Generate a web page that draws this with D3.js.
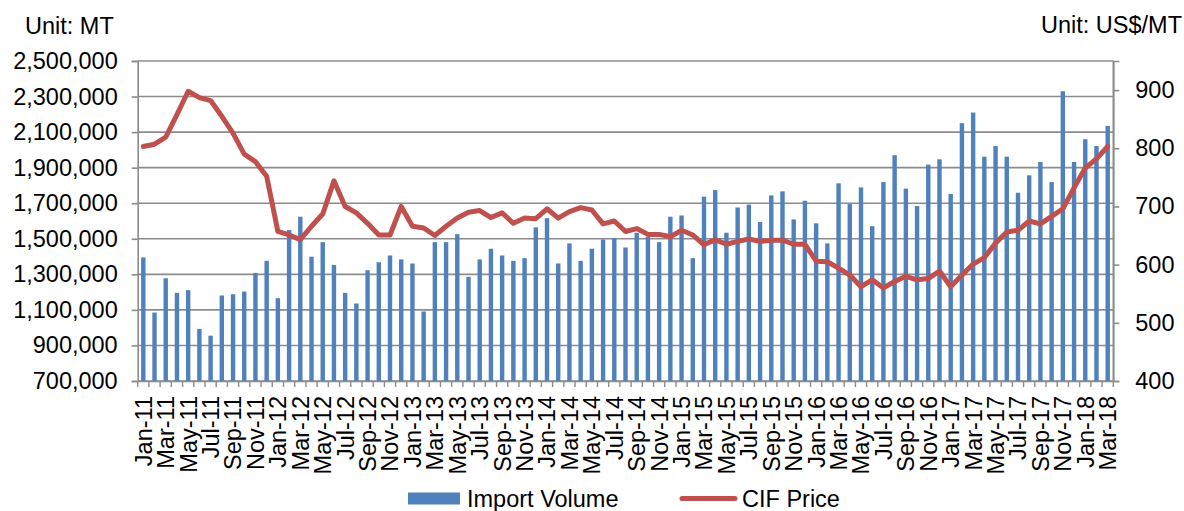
<!DOCTYPE html>
<html>
<head>
<meta charset="utf-8">
<script src="https://cdn.jsdelivr.net/npm/d3@7"></script>
<style>
  html, body { margin: 0; padding: 0; background: #fff; }
  svg { display: block; font-family: "Liberation Sans", Arial, sans-serif; }
</style>
</head>
<body>
<div class="svg-container"></div>
<script>
// month/year parts used to build the category labels
const monthNames = ['Jan', 'Feb', 'Mar', 'Apr', 'May', 'Jun', 'Jul', 'Aug', 'Sep', 'Oct', 'Nov', 'Dec'];
const years = ['11', '12', '13', '14', '15', '16', '17', '18'];

// import volume, MT (Jan-11 .. Mar-18)
const importVolume = [
  1395000, 1085000, 1278000, 1196000, 1211000, 993000, 955000, 1181000, 1188000, 1203000, 1308000, 1376000,
  1166000, 1549000, 1624000, 1399000, 1481000, 1353000, 1196000, 1136000, 1323000, 1368000, 1406000, 1384000,
  1361000, 1091000, 1481000, 1481000, 1526000, 1286000, 1384000, 1444000, 1406000, 1376000, 1391000, 1564000,
  1616000, 1361000, 1474000, 1376000, 1444000, 1496000, 1504000, 1451000, 1534000, 1511000, 1481000, 1624000,
  1631000, 1391000, 1737000, 1774000, 1534000, 1676000, 1692000, 1594000, 1744000, 1767000, 1609000, 1714000,
  1587000, 1474000, 1812000, 1695000, 1789000, 1571000, 1819000, 1970000, 1782000, 1684000, 1917000, 1947000,
  1752000, 2150000, 2210000, 1962000, 2022000, 1962000, 1759000, 1857000, 1932000, 1819000, 2330000, 1932000,
  2060000, 2022000, 2135000
];

// CIF price, US$/MT
const cifPrice = [
  803, 807, 819, 858, 898, 887, 882, 855, 826, 790, 777, 752,
  657, 651, 643, 666, 687, 744, 700, 689, 671, 651, 651, 700,
  666, 663, 650, 666, 680, 690, 693, 681, 689, 671, 680, 679,
  696, 680, 691, 698, 694, 670, 675, 657, 662, 652, 652, 648,
  659, 651, 634, 643, 635, 640, 644, 640, 642, 642, 635, 635,
  606, 605, 594, 582, 562, 574, 560, 571, 580, 574, 576, 589,
  562, 582, 601, 612, 637, 656, 659, 675, 670, 683, 696, 732,
  766, 782, 803
];

const leftTicks = [700000, 900000, 1100000, 1300000, 1500000, 1700000, 1900000, 2100000, 2300000, 2500000];
const rightTicks = [400, 500, 600, 700, 800, 900];

// build category labels like "Jan-11"
const categories = [];
years.forEach((y) => {
  monthNames.forEach((m) => {
    if (categories.length < importVolume.length) categories.push(m + '-' + y);
  });
});

const width = 1184;
const height = 511;
const margin = { top: 61, right: 70.7, bottom: 130, left: 137.7 };
const gridColor = '#8c8c8c';
const fontSize = 23.5;

const svg = d3.select('.svg-container')
  .append('svg')
  .attr('width', width)
  .attr('height', height);

// scales
const xScale = d3.scaleBand()
  .domain(categories)
  .range([margin.left, width - margin.right])
  .paddingInner(0)
  .paddingOuter(0);

const yLeft = d3.scaleLinear()
  .domain([700000, 2500000])
  .range([height - margin.bottom, margin.top]);

const yRight = d3.scaleLinear()
  .domain([400, 950])
  .range([height - margin.bottom, margin.top]);

const plotBottom = height - margin.bottom;
const plotRight = width - margin.right;

// gridlines
svg.append('g')
  .selectAll('line')
  .data(leftTicks)
  .join('line')
  .attr('x1', margin.left)
  .attr('x2', plotRight)
  .attr('y1', (d) => yLeft(d))
  .attr('y2', (d) => yLeft(d))
  .attr('stroke', gridColor)
  .attr('stroke-width', 1.6);

// right border of plot
svg.append('line')
  .attr('x1', plotRight).attr('x2', plotRight)
  .attr('y1', margin.top).attr('y2', plotBottom)
  .attr('stroke', gridColor).attr('stroke-width', 1.6);

// bars
const barWidth = 4.4;
svg.append('g')
  .selectAll('rect')
  .data(importVolume)
  .join('rect')
  .attr('x', (d, i) => xScale(categories[i]) + xScale.bandwidth() / 2 - barWidth / 2)
  .attr('y', (d) => yLeft(d))
  .attr('width', barWidth)
  .attr('height', (d) => plotBottom - yLeft(d))
  .attr('fill', '#4F81BD');

// axes
const leftAxis = d3.axisLeft(yLeft)
  .tickValues(leftTicks)
  .tickFormat(d3.format(','))
  .tickSize(6)
  .tickPadding(14);

svg.append('g')
  .attr('id', 'y-axis-left')
  .attr('transform', `translate(${margin.left}, 0)`)
  .call(leftAxis);

const rightAxis = d3.axisRight(yRight)
  .tickValues(rightTicks)
  .tickFormat(d3.format('d'))
  .tickSize(6)
  .tickPadding(16);

svg.append('g')
  .attr('id', 'y-axis-right')
  .attr('transform', `translate(${plotRight}, 0)`)
  .call(rightAxis);

const xAxis = d3.axisBottom(xScale)
  .tickSize(0)
  .tickFormat((d, i) => (i % 2 === 0 ? d : ''));

const xg = svg.append('g')
  .attr('id', 'x-axis')
  .attr('transform', `translate(0, ${plotBottom})`)
  .call(xAxis);

xg.selectAll('text')
  .attr('transform', 'rotate(-90)')
  .attr('text-anchor', 'end')
  .attr('x', -15)
  .attr('y', 0)
  .attr('dy', '0.36em');

// x tick marks at category boundaries
svg.append('g')
  .selectAll('line')
  .data(d3.range(categories.length + 1))
  .join('line')
  .attr('x1', (i) => margin.left + i * xScale.step())
  .attr('x2', (i) => margin.left + i * xScale.step())
  .attr('y1', plotBottom)
  .attr('y2', plotBottom + 6)
  .attr('stroke', gridColor)
  .attr('stroke-width', 1.4);

// style all axes
svg.selectAll('.domain').attr('stroke', gridColor).attr('stroke-width', 1.6);
svg.selectAll('.tick line').attr('stroke', gridColor).attr('stroke-width', 1.6);
svg.selectAll('.tick text')
  .attr('fill', '#000')
  .style('font-size', fontSize + 'px')
  .style('font-family', '"Liberation Sans", Arial, sans-serif');

// price line
const line = d3.line()
  .x((d, i) => xScale(categories[i]) + xScale.bandwidth() / 2)
  .y((d) => yRight(d));

svg.append('path')
  .datum(cifPrice)
  .attr('d', line)
  .attr('fill', 'none')
  .attr('stroke', '#C0504D')
  .attr('stroke-width', 5)
  .attr('stroke-linejoin', 'round')
  .attr('stroke-linecap', 'round');

// unit labels
svg.append('text')
  .text('Unit: MT')
  .attr('x', 25)
  .attr('y', 34)
  .style('font-size', fontSize + 'px');

svg.append('text')
  .text('Unit: US$/MT')
  .attr('x', 1182)
  .attr('y', 33)
  .attr('text-anchor', 'end')
  .style('font-size', fontSize + 'px');

// legend
const legend = svg.append('g').style('font-size', fontSize + 'px');

legend.append('rect')
  .attr('x', 408).attr('y', 492.5)
  .attr('width', 52).attr('height', 12)
  .attr('fill', '#4F81BD');

legend.append('text')
  .text('Import Volume')
  .attr('x', 467).attr('y', 507);

legend.append('line')
  .attr('x1', 682).attr('x2', 735)
  .attr('y1', 498.5).attr('y2', 498.5)
  .attr('stroke', '#C0504D')
  .attr('stroke-width', 5)
  .attr('stroke-linecap', 'round');

legend.append('text')
  .text('CIF Price')
  .attr('x', 742).attr('y', 507);
</script>
</body>
</html>
